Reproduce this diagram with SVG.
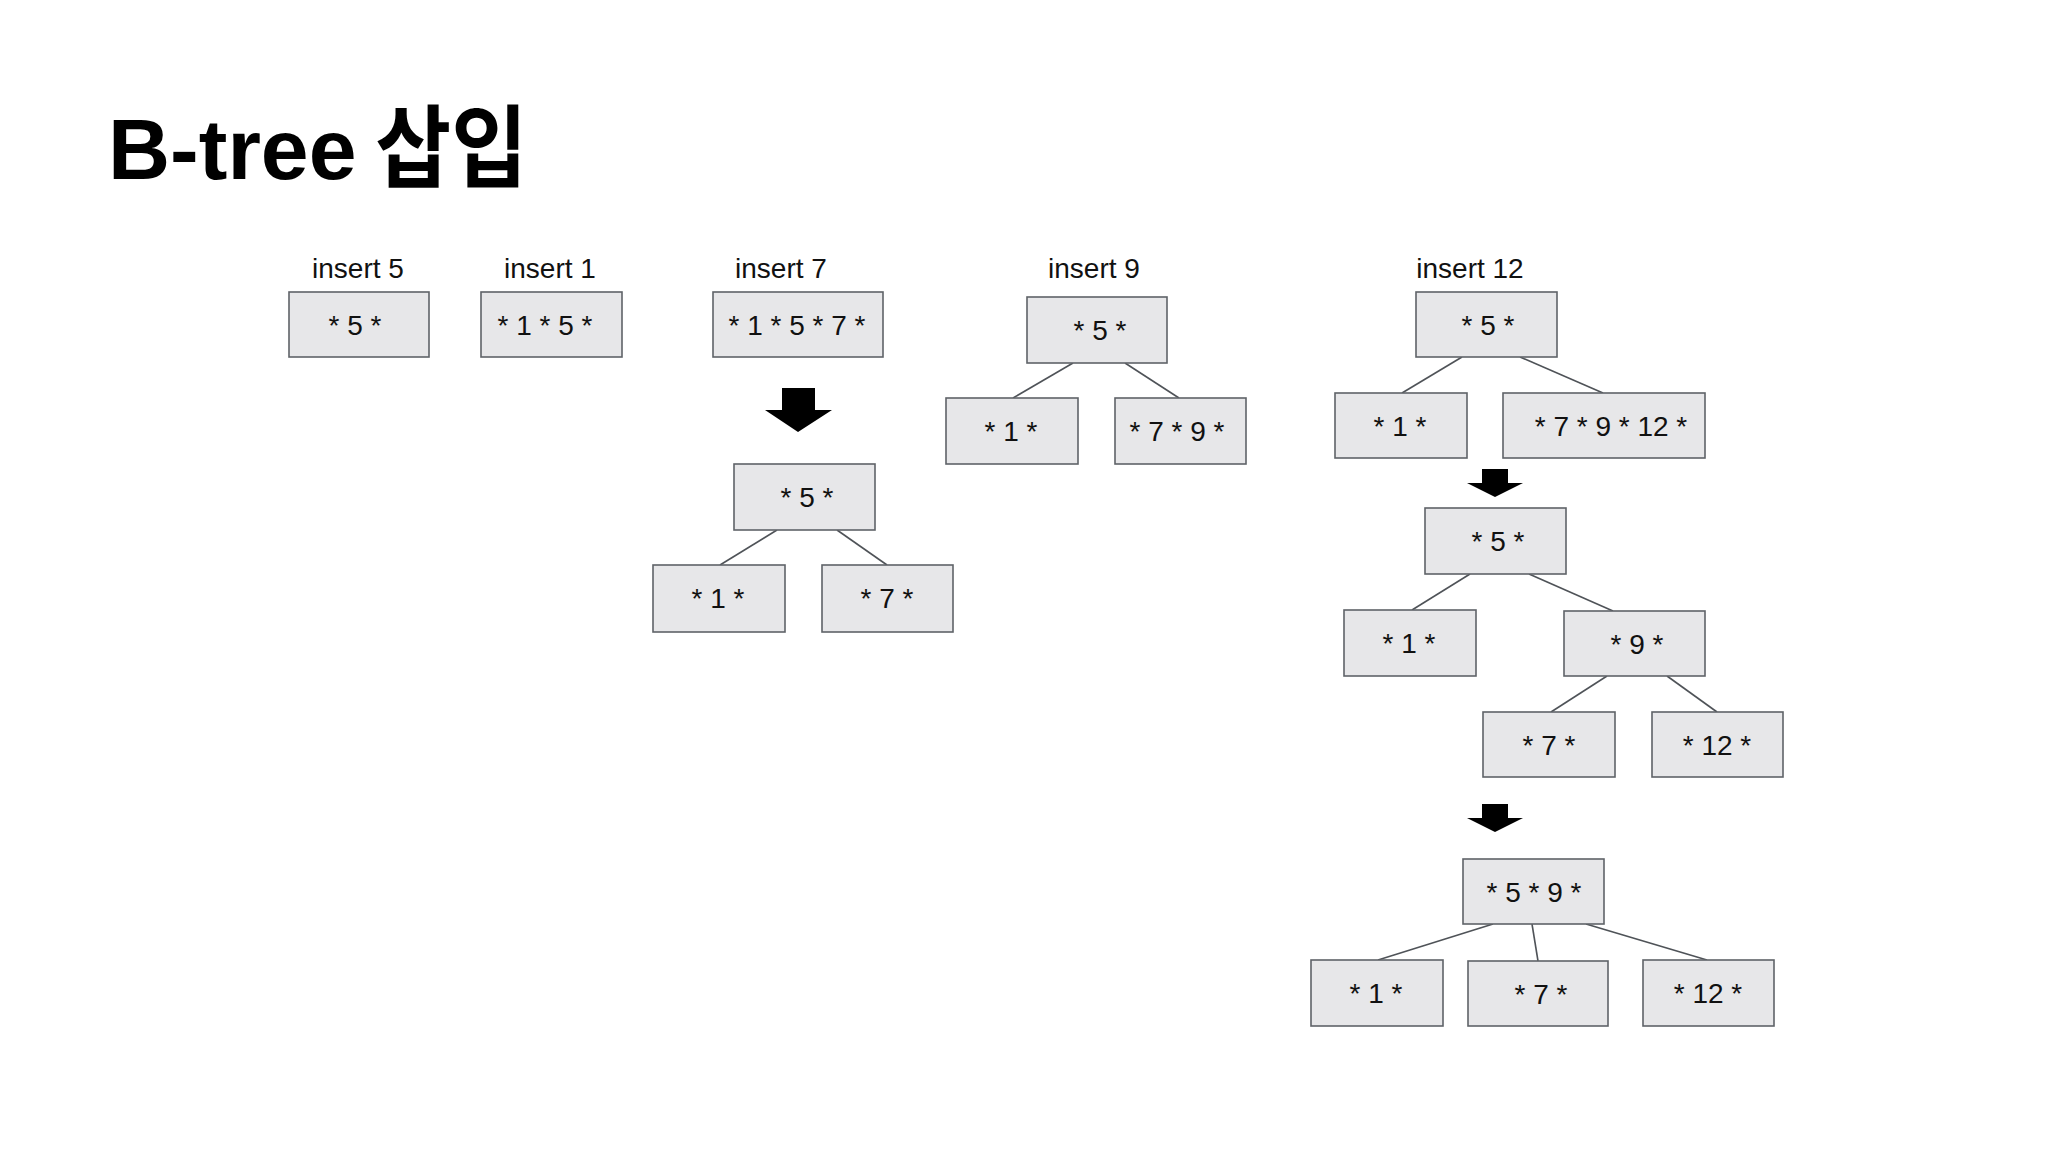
<svg xmlns="http://www.w3.org/2000/svg" width="2048" height="1152" viewBox="0 0 2048 1152">
<style>
  .box { fill: #e7e7e9; stroke: #5f6368; stroke-width: 1.6; }
  .t { font-family: "Liberation Sans", Arial, sans-serif; font-size: 28px; fill: #111; text-anchor: middle; }
  .lbl { font-family: "Liberation Sans", Arial, sans-serif; font-size: 28px; fill: #111; text-anchor: middle; }
  .edge { stroke: #4f5358; stroke-width: 1.6; fill: none; }
  .arrow { fill: #000; }
  .title { font-family: "Liberation Sans", Arial, "Noto Sans CJK KR", sans-serif; font-weight: bold; fill: #000; }
</style>
<rect width="2048" height="1152" fill="#ffffff"/>

<g id="title">
  <text class="title" x="108" y="179" font-size="86">B-tree</text>
  <text class="title" x="0" y="180" font-size="90" transform="translate(375 0) scale(0.92 1)" style="font-family:'Noto Sans CJK KR', sans-serif">삽입</text>
</g>

<g id="labels">
  <text class="lbl" x="358" y="278">insert 5</text>
  <text class="lbl" x="550" y="278">insert 1</text>
  <text class="lbl" x="781" y="278">insert 7</text>
  <text class="lbl" x="1094" y="278">insert 9</text>
  <text class="lbl" x="1470" y="278">insert 12</text>
</g>

<g id="connectors">
  <line class="edge" x1="777" y1="530" x2="720" y2="565"/>
  <line class="edge" x1="837" y1="530" x2="887" y2="565"/>
  <line class="edge" x1="1073" y1="363" x2="1013" y2="398"/>
  <line class="edge" x1="1125" y1="363" x2="1179" y2="398"/>
  <line class="edge" x1="1462" y1="357" x2="1402" y2="393"/>
  <line class="edge" x1="1520" y1="357" x2="1603" y2="393"/>
  <line class="edge" x1="1470" y1="574" x2="1412" y2="610"/>
  <line class="edge" x1="1529" y1="574" x2="1613" y2="611"/>
  <line class="edge" x1="1607" y1="676" x2="1551" y2="712"/>
  <line class="edge" x1="1667" y1="676" x2="1717" y2="712"/>
  <line class="edge" x1="1493" y1="924" x2="1378" y2="960"/>
  <line class="edge" x1="1532" y1="924" x2="1538" y2="961"/>
  <line class="edge" x1="1586" y1="924" x2="1707" y2="960"/>
</g>

<g id="arrows">
  <polygon class="arrow" points="782,388 815,388 815,410 832,410 798,432 765,410 782,410"/>
  <polygon class="arrow" points="1482,469 1508,469 1508,483 1523,483 1495,497 1467,483 1482,483"/>
  <polygon class="arrow" points="1482,804 1508,804 1508,818 1523,818 1495,832 1467,818 1482,818"/>
</g>

<g id="n5-a"><rect class="box" x="289" y="292" width="140" height="65"/><text class="t" x="355" y="335">* 5 *</text></g>
<g id="n1-a"><rect class="box" x="481" y="292" width="141" height="65"/><text class="t" x="545" y="335">* 1 * 5 *</text></g>
<g id="n7-a"><rect class="box" x="713" y="292" width="170" height="65"/><text class="t" x="797" y="335">* 1 * 5 * 7 *</text></g>

<g id="n7-root"><rect class="box" x="734" y="464" width="141" height="66"/><text class="t" x="807" y="507">* 5 *</text></g>
<g id="n7-l"><rect class="box" x="653" y="565" width="132" height="67"/><text class="t" x="718" y="608">* 1 *</text></g>
<g id="n7-r"><rect class="box" x="822" y="565" width="131" height="67"/><text class="t" x="887" y="608">* 7 *</text></g>

<g id="n9-root"><rect class="box" x="1027" y="297" width="140" height="66"/><text class="t" x="1100" y="340">* 5 *</text></g>
<g id="n9-l"><rect class="box" x="946" y="398" width="132" height="66"/><text class="t" x="1011" y="441">* 1 *</text></g>
<g id="n9-r"><rect class="box" x="1115" y="398" width="131" height="66"/><text class="t" x="1177" y="441">* 7 * 9 *</text></g>

<g id="n12-root"><rect class="box" x="1416" y="292" width="141" height="65"/><text class="t" x="1488" y="335">* 5 *</text></g>
<g id="n12-l"><rect class="box" x="1335" y="393" width="132" height="65"/><text class="t" x="1400" y="436">* 1 *</text></g>
<g id="n12-r"><rect class="box" x="1503" y="393" width="202" height="65"/><text class="t" x="1611" y="436">* 7 * 9 * 12 *</text></g>

<g id="s2-root"><rect class="box" x="1425" y="508" width="141" height="66"/><text class="t" x="1498" y="551">* 5 *</text></g>
<g id="s2-l"><rect class="box" x="1344" y="610" width="132" height="66"/><text class="t" x="1409" y="653">* 1 *</text></g>
<g id="s2-r"><rect class="box" x="1564" y="611" width="141" height="65"/><text class="t" x="1637" y="654">* 9 *</text></g>
<g id="s2-rl"><rect class="box" x="1483" y="712" width="132" height="65"/><text class="t" x="1549" y="755">* 7 *</text></g>
<g id="s2-rr"><rect class="box" x="1652" y="712" width="131" height="65"/><text class="t" x="1717" y="755">* 12 *</text></g>

<g id="s3-root"><rect class="box" x="1463" y="859" width="141" height="65"/><text class="t" x="1534" y="902">* 5 * 9 *</text></g>
<g id="s3-l"><rect class="box" x="1311" y="960" width="132" height="66"/><text class="t" x="1376" y="1003">* 1 *</text></g>
<g id="s3-m"><rect class="box" x="1468" y="961" width="140" height="65"/><text class="t" x="1541" y="1004">* 7 *</text></g>
<g id="s3-r"><rect class="box" x="1643" y="960" width="131" height="66"/><text class="t" x="1708" y="1003">* 12 *</text></g>
</svg>
